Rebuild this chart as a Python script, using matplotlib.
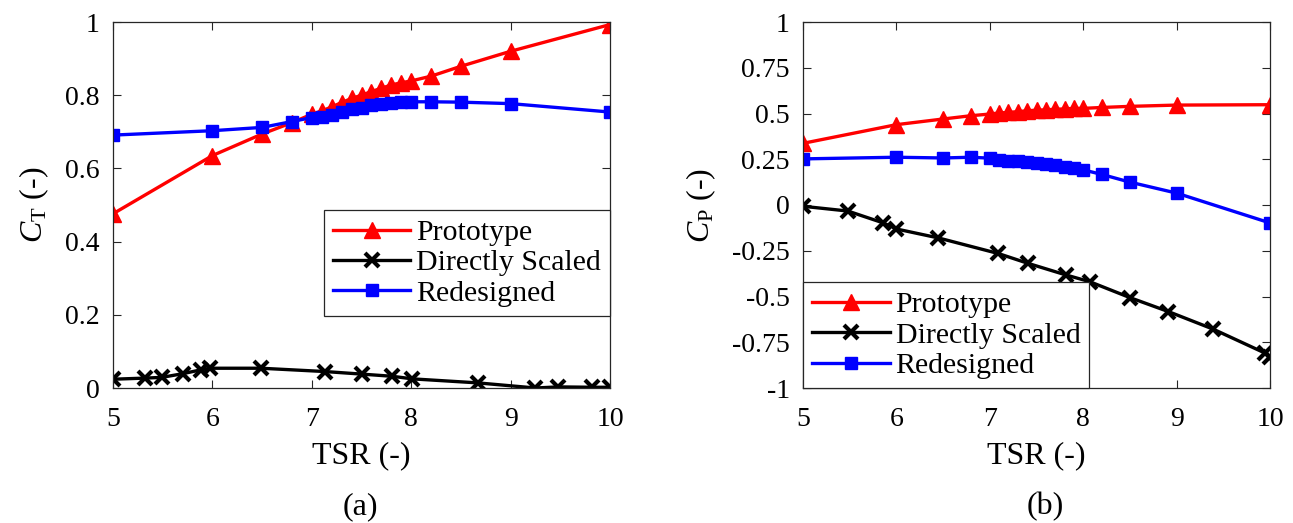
import numpy as np
import matplotlib
matplotlib.use('Agg')
import matplotlib.pyplot as plt

plt.rcParams['font.family'] = ['Liberation Serif', 'DejaVu Serif']
plt.rcParams['mathtext.fontset'] = 'custom'
plt.rcParams['mathtext.rm'] = 'Liberation Serif'
plt.rcParams['mathtext.it'] = 'Liberation Serif:italic'
plt.rcParams['axes.unicode_minus'] = False

# ---- (a) thrust coefficient
tsr_proto = [5, 6, 6.5, 6.8, 7.0, 7.1, 7.2, 7.3, 7.4, 7.5, 7.6, 7.7, 7.8, 7.9, 8.0, 8.2, 8.5, 9.0, 10]
ct_proto = [0.476, 0.635, 0.694, 0.725, 0.748, 0.757, 0.768, 0.78, 0.791, 0.80, 0.81, 0.819,
            0.828, 0.834, 0.839, 0.852, 0.879, 0.92, 0.993]
ct_redes = [0.691, 0.703, 0.712, 0.728, 0.739, 0.741, 0.746, 0.754, 0.762, 0.766, 0.772, 0.777,
            0.78, 0.781, 0.782, 0.782, 0.781, 0.777, 0.754]
tsr_ds_a = [5, 5.32, 5.49, 5.70, 5.89, 5.98, 6.49, 7.13, 7.5, 7.81, 8.01, 8.67, 9.25, 9.48, 9.82, 10]
ct_ds = [0.024, 0.027, 0.029, 0.039, 0.05, 0.054, 0.054, 0.045, 0.038, 0.032, 0.025, 0.014,
         0.0, 0.003, 0.002, 0.002]

# ---- (b) power coefficient
cp_proto = [0.337, 0.439, 0.47, 0.488, 0.497, 0.503, 0.506, 0.51, 0.515, 0.518, 0.52, 0.523,
            0.525, 0.528, 0.528, 0.533, 0.539, 0.546, 0.548]
cp_redes = [0.252, 0.261, 0.257, 0.261, 0.256, 0.247, 0.243, 0.238, 0.234, 0.228, 0.225, 0.219,
            0.21, 0.201, 0.192, 0.167, 0.125, 0.065, -0.098]
tsr_ds_b = [5, 5.48, 5.86, 6.0, 6.45, 7.09, 7.41, 7.82, 8.07, 8.5, 8.91, 9.39, 9.95, 10]
cp_ds = [-0.007, -0.033, -0.098, -0.131, -0.18, -0.265, -0.319, -0.383, -0.419, -0.506,
         -0.582, -0.678, -0.81, -0.83]

labels = ['Prototype', 'Directly Scaled', 'Redesigned']

fig = plt.figure(figsize=(12.93, 5.23), dpi=100)
ax1 = fig.add_axes([113/1293, 1-388/523, 497/1293, 366/523])
ax2 = fig.add_axes([803/1293, 1-388/523, 467/1293, 366/523])

lw = 2.4
def draw(ax, yp, xd, yd, yr):
    ax.plot(tsr_proto, yp, '-^', color='red', lw=lw, ms=12, label=labels[0])
    ax.plot(xd, yd, '-x', color='black', lw=lw, ms=10, mew=3, label=labels[1])
    ax.plot(tsr_proto, yr, '-s', color='blue', lw=lw, ms=8, label=labels[2])

draw(ax1, ct_proto, tsr_ds_a, ct_ds, ct_redes)
draw(ax2, cp_proto, tsr_ds_b, cp_ds, cp_redes)

ax1.set_ylim(0, 1)
ax1.set_yticks([0, 0.2, 0.4, 0.6, 0.8, 1])
ax1.set_yticklabels(['0', '0.2', '0.4', '0.6', '0.8', '1'])
ax2.set_ylim(-1, 1)
ax2.set_yticks([-1, -0.75, -0.5, -0.25, 0, 0.25, 0.5, 0.75, 1])
ax2.set_yticklabels(['-1', '-0.75', '-0.5', '-0.25', '0', '0.25', '0.5', '0.75', '1'])

for ax in (ax1, ax2):
    ax.set_xlim(5, 10)
    ax.set_xticks([5, 6, 7, 8, 9, 10])
    ax.tick_params(direction='in', top=True, right=True, labelsize=20, length=6,
                   color='#262626')
    ax.tick_params(axis='x', pad=14)
    ax.tick_params(axis='y', pad=9.5)
    for s in ax.spines.values():
        s.set_color('#262626')
        s.set_linewidth(0.9)
    ax.set_xlabel('TSR (-)', fontsize=23, labelpad=6)

ax1.set_ylabel(r'$C_\mathrm{T}$ (-)', fontsize=23, labelpad=10)
ax2.set_ylabel(r'$C_\mathrm{P}$ (-)', fontsize=23, labelpad=10)

leg_kw = dict(fontsize=21.5, fancybox=False, framealpha=1, edgecolor='#262626',
              borderpad=0.3, labelspacing=0.12, handlelength=2.6, handletextpad=0.2,
              borderaxespad=0)
l1 = ax1.legend(loc='lower right', bbox_to_anchor=(1, 0.197), **leg_kw)
l2 = ax2.legend(loc='lower left', bbox_to_anchor=(0, 0), **leg_kw)
for l in (l1, l2):
    l.get_frame().set_linewidth(0.9)

fig.text(360/1293, 1-507/523, '(a)', fontsize=23, ha='center', va='center')
fig.text(1045/1293, 1-507/523, '(b)', fontsize=23, ha='center', va='center')

fig.savefig('out.png', dpi=100)
